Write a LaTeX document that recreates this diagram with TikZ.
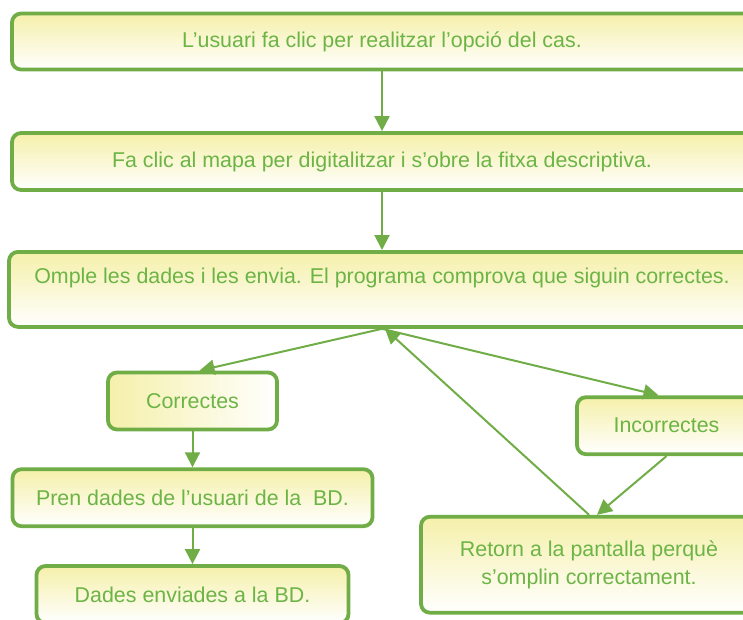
\documentclass[tikz,border=0pt]{standalone}
\usepackage{fontspec}
\setmainfont{Liberation Sans}
\usetikzlibrary{arrows.meta}

\begin{document}
\begin{tikzpicture}[x=1pt,y=-1pt,
	flowbox/.style={draw=custcol_70_ad_47, line width=3.8pt, rounded corners=9pt, top color=custcol_f5_f0_aa, bottom color=white, text=custcol_6c_b4_46, inner sep=0pt, align=center, font=\flowfont},
	flowarrow/.style={draw=custcol_70_ad_47, line width=2pt, -{Triangle[length=15pt,width=15pt]}}]
					\def\flowfont{\fontsize{21.4pt}{28pt}\selectfont}
					\definecolor{custcol_70_ad_47}{RGB}{112, 173, 71}
					\definecolor{custcol_6c_b4_46}{RGB}{108, 180, 70}
					\definecolor{custcol_f5_f0_aa}{RGB}{245, 240, 170}
					\useasboundingbox (0,0) rectangle (743,619);
					\clip (0,0) rectangle (743,619);
					\node[flowbox, minimum width=740pt, minimum height=56pt] (usuari) at (382,41.5) {L’usuari fa clic per realitzar l’opció del cas.};
					\node[flowbox, minimum width=740pt, minimum height=57pt] (mapa) at (382,161.5) {Fa clic al mapa per digitalitzar i s’obre la fitxa descriptiva.};
					\node[flowbox, minimum width=746pt, anchor=north, inner ysep=16pt, text height=16pt, text depth=27pt] (omple) at (382,250) {Omple les dades i les envia. El programa comprova que siguin correctes.};
					\node[flowbox, left color=custcol_f5_f0_aa, right color=white, minimum width=169pt, minimum height=57pt] (correctes) at (192.5,401) {Correctes};
					\node[flowbox, minimum width=179pt, minimum height=57pt] (incorrectes) at (666.5,425.7) {Incorrectes};
					\node[flowbox, minimum width=360pt, minimum height=57pt] (pren) at (192.5,497.7) {Pren dades de l’usuari de la\ \ BD.};
					\node[flowbox, minimum width=312pt, minimum height=57pt] (enviades) at (192.5,594.5) {Dades enviades a la BD.};
					\node[flowbox, minimum width=336pt, minimum height=96pt] (retorn) at (589,564.7) {Retorn a la pantalla perquè\\s’omplin correctament.};
					\draw[flowarrow] (usuari) -- (mapa);
					\draw[flowarrow] (mapa) -- (omple);
					\draw[flowarrow] (omple.south) -- ([xshift=7pt]correctes.north);
					\draw[flowarrow] (omple.south) -- ([xshift=-8pt]incorrectes.north);
					\draw[flowarrow] (incorrectes.south) -- ([xshift=8pt]retorn.north);
					\draw[flowarrow] (retorn.north) -- ([xshift=3pt]omple.south);
					\draw[flowarrow] (correctes) -- (pren);
					\draw[flowarrow] (pren) -- (enviades);
				\end{tikzpicture}
\end{document}
